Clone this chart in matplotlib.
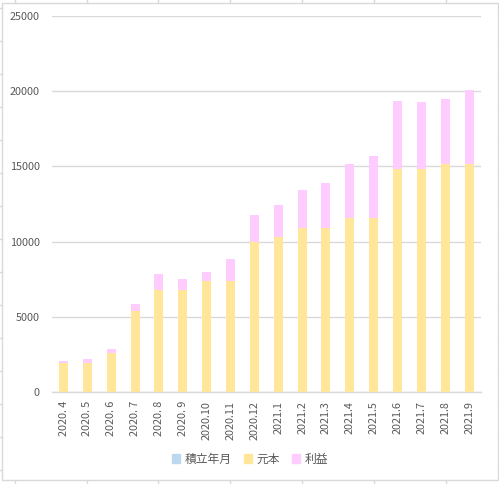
import matplotlib
matplotlib.use('Agg')
import matplotlib.pyplot as plt
from matplotlib.lines import Line2D
from matplotlib.patches import Patch, Rectangle
import numpy as np

plt.rcParams['font.family'] = ['Noto Sans CJK JP', 'DejaVu Sans']

months = ['2020. 4', '2020. 5', '2020. 6', '2020. 7', '2020. 8', '2020. 9',
          '2020.10', '2020.11', '2020.12', '2021.1', '2021.2', '2021.3',
          '2021.4', '2021.5', '2021.6', '2021.7', '2021.8', '2021.9']
principal = [1900, 1900, 2570, 5390, 6780, 6780, 7380, 7380, 9950,
             10310, 10890, 10890, 11550, 11550, 14840, 14840, 15150, 15150]
profit = [170, 290, 290, 460, 1070, 730, 600, 1460, 1800,
          2110, 2530, 3000, 3600, 4140, 4510, 4450, 4340, 4940]
# 積立年月 is an empty series in the original sheet, only shown in the legend
legend_names = ['積立年月', '元本', '利益']

c_blue = '#BDD7EE'
c_yellow = '#FFE699'
c_pink = '#FFCCFF'
grid_c = '#D9D9D9'
text_c = '#595959'

W, H = 499, 484
fig = plt.figure(figsize=(W / 100, H / 100), dpi=100)
ax = fig.add_axes([51.6 / W, 1 - 392 / H, (481 - 51.6) / W, (392 - 16) / H])

pos = np.arange(len(months))
width = 0.38
ax.bar(pos, principal, width, color=c_yellow, zorder=3)
ax.bar(pos, profit, width, bottom=principal, color=c_pink, zorder=3)

ax.set_xlim(-0.5, len(months) - 0.5)
ax.set_ylim(0, 25000)
ax.set_yticks(np.arange(0, 25001, 5000))
ax.set_xticks(pos)
ax.set_xticklabels(months, rotation=90)
ax.yaxis.grid(True, color=grid_c, linewidth=1.0, zorder=0)
for s in ['top', 'right', 'left']:
    ax.spines[s].set_visible(False)
ax.spines['bottom'].set_color(grid_c)
ax.spines['bottom'].set_linewidth(1.0)
ax.tick_params(axis='y', length=0, pad=8.6, labelsize=7.8, labelcolor=text_c)
ax.tick_params(axis='x', length=0, pad=6.5, labelsize=7.8, labelcolor=text_c)

handles = [Patch(color=c_blue), Patch(color=c_yellow), Patch(color=c_pink)]
fig.legend(handles, legend_names, loc='center', bbox_to_anchor=(250 / W, 1 - 459 / H),
           ncol=3, frameon=False, fontsize=8.5, handlelength=0.7, handleheight=0.7,
           handletextpad=0.4, columnspacing=1.0, labelcolor=text_c)

# chart frame and the sheet cell lines peeking out around it
fig.add_artist(Rectangle((2 / W, 1 - 479.5 / H), 496 / W, 477 / H, transform=fig.transFigure,
                         fill=False, edgecolor=grid_c, linewidth=1.0))
for x in [15, 87, 158, 230, 302, 374, 446]:
    fig.add_artist(Line2D([x / W, x / W], [1, 1 - 2.5 / H], transform=fig.transFigure,
                          color=grid_c, linewidth=1.0))
    fig.add_artist(Line2D([x / W, x / W], [1 - 479.5 / H, 0], transform=fig.transFigure,
                          color=grid_c, linewidth=1.0))
for y in range(8, 480, 33):
    fig.add_artist(Line2D([0, 2 / W], [1 - y / H, 1 - y / H], transform=fig.transFigure,
                          color=grid_c, linewidth=1.0))
    fig.add_artist(Line2D([498 / W, 1], [1 - y / H, 1 - y / H], transform=fig.transFigure,
                          color=grid_c, linewidth=1.0))

fig.savefig('out.png', dpi=100, facecolor='white')
